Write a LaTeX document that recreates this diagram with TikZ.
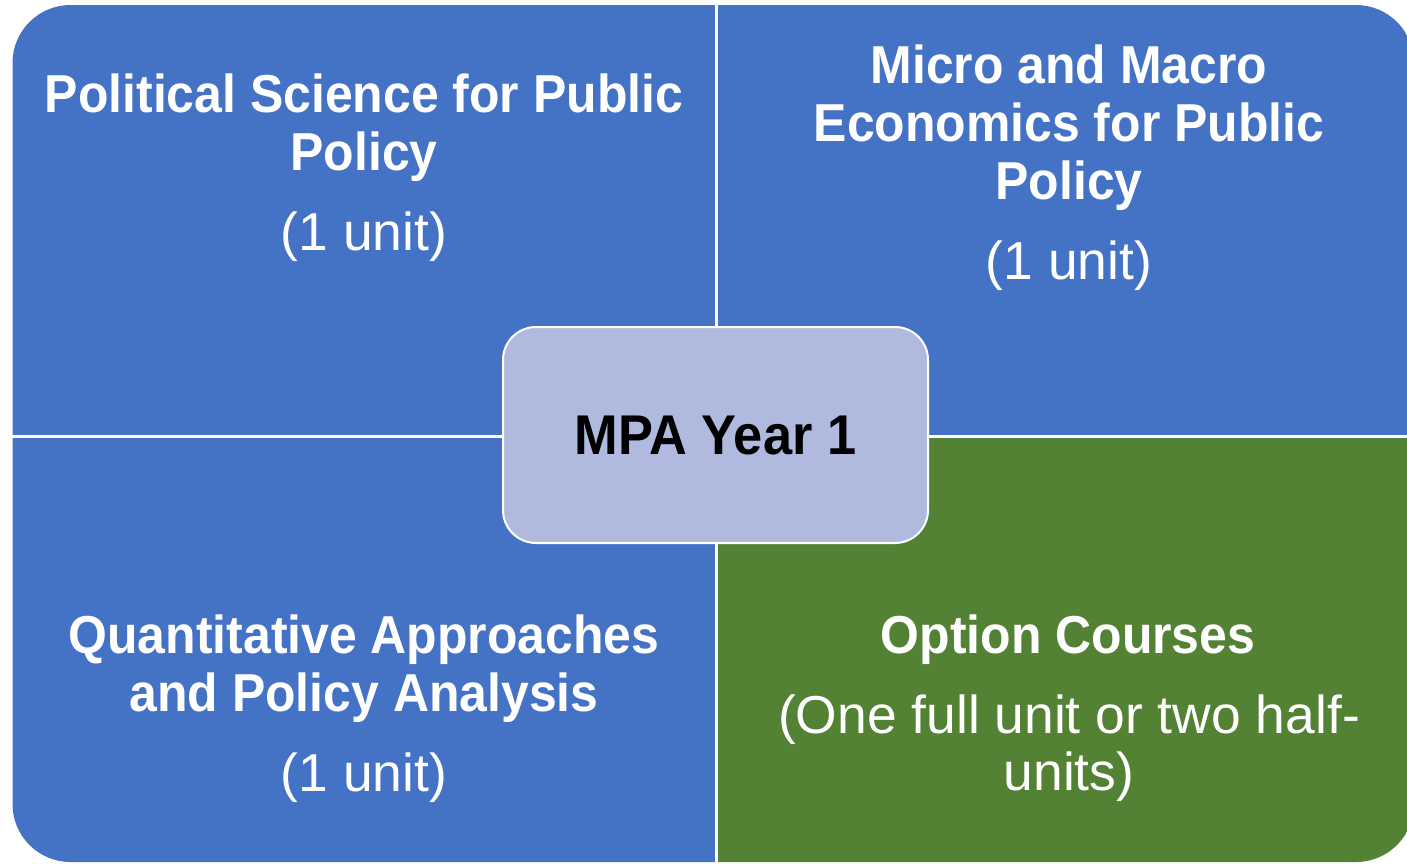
\documentclass[tikz,border=0pt]{standalone}
\usepackage{fontspec}
\setmainfont{Liberation Sans}
\newfontfamily\titlefam{Liberation Sans}[FakeStretch=0.935]
\definecolor{qblue}{HTML}{4472C4}
\definecolor{qgreen}{HTML}{548235}
\definecolor{qcenter}{HTML}{AFBADE}
\tikzset{
  ttl/.style={anchor=base, text=white, inner sep=0pt, font=\titlefam\bfseries\fontsize{53.4}{58}\selectfont},
  sub/.style={anchor=base, text=white, inner sep=0pt, font=\fontsize{53.4}{58}\selectfont},
  sep/.style={white, line width=3pt},
  hub/.style={draw=white, line width=2pt, fill=qcenter, rounded corners=33pt, minimum width=425pt, minimum height=216pt, inner sep=0pt, text=black, font=\titlefam\bfseries\fontsize{56}{60}\selectfont}
}
\begin{document}
\begin{tikzpicture}[x=1pt,y=-1pt]
\useasboundingbox (0,0) rectangle (1407,863);
\begin{scope}
  \clip[rounded corners=58pt] (12.5,5) rectangle (1414,862);
  \fill[qblue] (0,0) rectangle (716,436);
  \fill[qblue] (716,0) rectangle (1420,436);
  \fill[qblue] (0,436) rectangle (716,870);
  \fill[qgreen] (716,436) rectangle (1420,870);
\end{scope}
\coordinate (vt) at (716,0);
\coordinate (vb) at (716,870);
\coordinate (hl) at (0,436.5);
\coordinate (hr) at (1420,436.5);
\draw[sep] (vt) -- (vb);
\draw[sep] (hl) -- (hr);
% top left
\node[ttl] (tl1) at (364,112) {Political Science for Public};
\node[ttl] (tl2) at (364,170) {Policy};
\node[sub] (tl3) at (364,250) {(1 unit)};
% top right
\node[ttl] (tr1) at (1069,83) {Micro and Macro};
\node[ttl] (tr2) at (1069,141) {Economics for Public};
\node[ttl] (tr3) at (1069,199) {Policy};
\node[sub] (tr4) at (1069,279) {(1 unit)};
% bottom left
\node[ttl] (bl1) at (364,653) {Quantitative Approaches};
\node[ttl] (bl2) at (364,711) {and Policy Analysis};
\node[sub] (bl3) at (364,791) {(1 unit)};
% bottom right
\node[ttl] (br1) at (1068,653) {Option Courses};
\node[sub] (br2) at (1069,733) {(One full unit or two half-};
\node[sub] (br3) at (1069,790) {units)};
% centre
\node[hub] (hub) at (715.5,435) {MPA Year 1};
\end{tikzpicture}
\end{document}
